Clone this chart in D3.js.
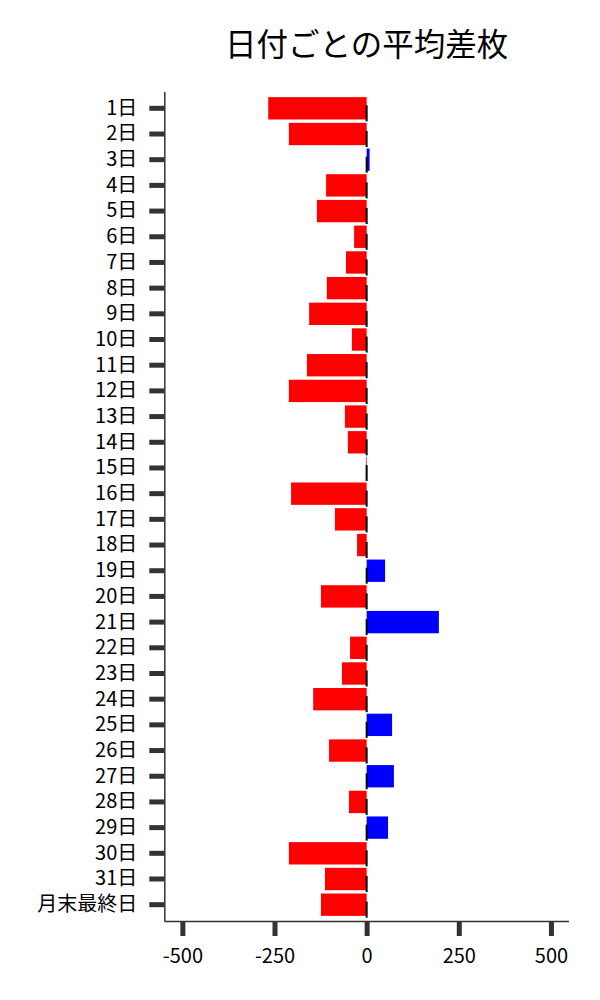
<!DOCTYPE html>
<html><head><meta charset="utf-8">
<script src="https://cdn.jsdelivr.net/npm/d3@7"></script>
<style>body{margin:0;background:#fff}</style>
</head><body>
<svg id="c" width="600" height="1000"></svg>
<script>
const categories = ["1日","2日","3日","4日","5日","6日","7日","8日","9日","10日","11日","12日","13日","14日","15日","16日","17日","18日","19日","20日","21日","22日","23日","24日","25日","26日","27日","28日","29日","30日","31日","月末最終日"];
const values = [-267,-211,8,-110,-135,-34,-56,-108,-156,-40,-162,-211,-59,-51,-2,-205,-86,-26,50,-124,196,-45,-67,-145,69,-102,74,-48,58,-211,-113,-124];
const xTicks = [-500,-250,0,250,500];
const title = "日付ごとの平均差枚";

(function(){
const font = "'Noto Sans CJK JP','Noto Sans',sans-serif";
const svg = d3.select("#c");
const pl = 164.3, pr = 569, pt = 92, pb = 921;

const x = d3.scaleLinear().domain([-549,549]).range([pl,pr]);
const y = d3.scaleBand().domain(categories).range([pt,pb]).paddingInner(0.13).paddingOuter(0.2);

svg.append("text").attr("x",(pl+pr)/2).attr("y",56).attr("text-anchor","middle")
  .attr("font-family",font).attr("font-size",31.5).attr("fill","#000").text(title);

svg.append("g").selectAll("rect").data(categories).join("rect")
  .attr("x",(d,i)=>x(Math.min(0,values[i])))
  .attr("width",(d,i)=>Math.abs(x(values[i])-x(0)))
  .attr("y",d=>y(d)).attr("height",y.bandwidth())
  .attr("fill",(d,i)=>values[i]>=0?"#0000ff":"#ff0000");

svg.append("g").selectAll("line").data(categories).join("line")
  .attr("x1",x(0)).attr("x2",x(0))
  .attr("y1",d=>y(d)+y.bandwidth()/2-3).attr("y2",d=>y(d)+y.bandwidth()/2+13)
  .attr("stroke","#000").attr("stroke-width",2);

const gx = svg.append("g").attr("transform",`translate(0,${pb})`)
  .call(d3.axisBottom(x).tickValues(xTicks).tickSize(15).tickPadding(13).tickFormat(d=>String(d)));
gx.select(".domain").attr("d",`M${pl},0.5H${pr}`).attr("stroke","#333").attr("stroke-width",1.5);
gx.selectAll(".tick line").attr("stroke","#333").attr("stroke-width",5);
gx.selectAll(".tick text").attr("font-family",font).attr("font-size",20).attr("fill","#000");

const gy = svg.append("g").attr("transform",`translate(${pl},0)`)
  .call(d3.axisLeft(y).tickSize(15).tickPadding(12));
gy.select(".domain").attr("d",`M0.5,${pt}V${pb}`).attr("stroke","#333").attr("stroke-width",1.5);
gy.selectAll(".tick line").attr("stroke","#333").attr("stroke-width",5);
gy.selectAll(".tick text").attr("font-family",font).attr("font-size",20).attr("fill","#000");
})();
</script>
</body></html>
